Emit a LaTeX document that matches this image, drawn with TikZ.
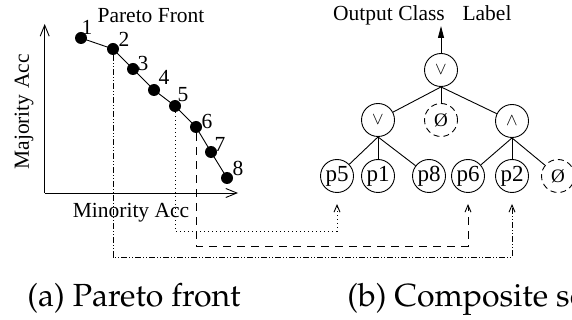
\documentclass[tikz,border=0pt]{standalone}
\usepackage{fontspec}
\setmainfont{Liberation Serif}
\usetikzlibrary{arrows.meta}
\newcommand{\capfont}{\fontencoding{OT1}\fontfamily{ppl}\fontseries{m}\fontshape{n}\fontsize{32}{38}\selectfont}
\begin{document}
\begin{tikzpicture}[x=1pt,y=-1pt,line width=0.9pt,
  lab/.style={font=\fontsize{21.5}{24}\selectfont, inner sep=0pt},
  caption/.style={font=\capfont, inner sep=0pt, anchor=base west},
  dot/.style={circle, fill=black, minimum size=12pt, inner sep=0pt},
  gate/.style={circle, draw, minimum size=33pt, inner sep=0pt, font=\fontsize{23}{25}\selectfont},
  opgate/.style={gate, font=\fontsize{17}{20}\selectfont},
  nullgate/.style={gate, dash pattern=on 6pt off 4pt, font=\fontsize{19}{22}\selectfont},
  axis/.style={-{Straight Barb[length=11pt,width=9pt,line width=0.9pt]}},
  barb/.style={-{Straight Barb[length=7pt,width=6pt,line width=0.9pt]}},
  dotline/.style={barb, dash pattern=on 1pt off 3pt},
  dashline/.style={barb, dash pattern=on 8pt off 6pt},
  dddline/.style={barb, dash pattern=on 6pt off 2pt on 1pt off 2pt on 1pt off 2pt},
]
\useasboundingbox (0,0) rectangle (572,320);

% ---- (a) Pareto front plot ----
\coordinate (org) at (44.7,193);
\coordinate (ytop) at (44.7,24);
\coordinate (xend) at (238,193);
\draw[axis] (org) -- (ytop);
\draw[axis] (org) -- (xend);

\node[lab, anchor=base] (title) at (151,23) {Pareto Front};
\node[lab, anchor=base] (xlab) at (131,218) {Minority Acc};
\node[lab, rotate=90] (ylab) at (24,112) {Majority Acc};

\node[dot] (d1) at (81,38) {};
\node[dot] (d2) at (113,49) {};
\node[dot] (d3) at (133,69) {};
\node[dot] (d4) at (154,90) {};
\node[dot] (d5) at (175,106) {};
\node[dot] (d6) at (196,127) {};
\node[dot] (d7) at (211,152) {};
\node[dot] (d8) at (227,178) {};
\draw (d1.center) -- (d2.center) -- (d3.center) -- (d4.center) -- (d5.center)
      -- (d6.center) -- (d7.center) -- (d8.center);

\node[lab] (n1) at (87,27) {1};
\node[lab] (n2) at (124,39) {2};
\node[lab] (n3) at (143,63) {3};
\node[lab] (n4) at (164,77) {4};
\node[lab] (n5) at (183,95) {5};
\node[lab] (n6) at (207,121) {6};
\node[lab] (n7) at (220,144) {7};
\node[lab] (n8) at (238,168) {8};

% ---- (b) composite classifier tree ----
\node[opgate] (root) at (441,70) {$\vee$};
\node[opgate] (or1) at (378,120) {$\vee$};
\node[nullgate] (null1) at (441,120) {Ø};
\node[opgate] (and1) at (512,121) {$\wedge$};

\node[gate] (p5) at (337,176) {p5};
\node[gate] (p1) at (378,176) {p1};
\node[gate] (p8) at (429,176) {p8};
\node[gate] (p6) at (468,176) {p6};
\node[gate] (p2) at (512,176) {p2};
\node[nullgate] (null2) at (558,176) {Ø};

\draw (root.south) -- (or1);
\draw (root.south) -- (null1);
\draw (root.south) -- (and1);
\draw (or1.south) -- (p5);
\draw (or1.south) -- (p1);
\draw (or1.south) -- (p8);
\draw (and1.south) -- (p6);
\draw (and1.south) -- (p2);
\draw (and1.south) -- (null2);

\coordinate (outtip) at (441,26);
\draw[-{Triangle[length=12pt,width=6pt]}] (root.north) -- (outtip);
\node[lab, anchor=base] (outlab) at (389,21) {Output Class};
\node[lab, anchor=base] (labl) at (487,21) {Label};

% ---- links from front points to tree leaves ----
\coordinate (b5) at (337,231);
\coordinate (t5) at (337,204);
\coordinate (b6) at (468,246);
\coordinate (t6) at (468,204);
\coordinate (b2) at (512,257);
\coordinate (t2) at (512,204);
\draw[dotline] (d5) |- (b5) -- (t5);
\draw[dashline] (d6) |- (b6) -- (t6);
\draw[dddline] (d2) |- (b2) -- (t2);

% ---- captions ----
\node[caption] (capa) at (27,306) {(a) Pareto front};
\node[caption] (capb) at (347,306) {(b) Composite solution};
\end{tikzpicture}
\end{document}
